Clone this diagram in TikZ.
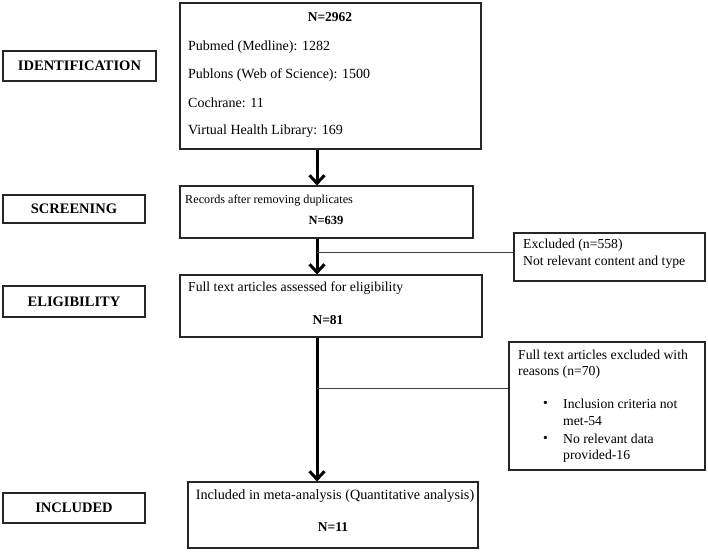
\documentclass[tikz,border=0pt]{standalone}
\usepackage{fontspec}
\setmainfont{Liberation Serif}
\usetikzlibrary{arrows.meta}
\begin{document}
\begin{tikzpicture}[x=1pt,y=-1pt,
  box/.style={draw=black!85, line width=1.1pt, inner sep=0pt},
  stage/.style={box, font=\fontsize{14.5}{16}\selectfont\bfseries},
  txt/.style={anchor=west, inner sep=0pt, font=\fontsize{13.7}{15}\selectfont},
  ntxt/.style={inner sep=0pt, font=\fontsize{13.5}{15}\selectfont\bfseries},
  arr/.style={line width=3pt, -{Straight Barb[length=8pt,width=15pt]}},
  side/.style={line width=1pt, draw=black!75}]
\useasboundingbox (0,0) rectangle (708,551);
% stage boxes
\node[stage, minimum width=153pt, minimum height=30pt] (s1) at (79.5,66) {IDENTIFICATION};
\node[stage, minimum width=142pt, minimum height=28pt] (s2) at (74,209) {SCREENING};
\node[stage, minimum width=142pt, minimum height=31pt] (s3) at (74,301.5) {ELIGIBILITY};
\node[stage, minimum width=142pt, minimum height=30pt] (s4) at (74,508) {INCLUDED};
% main boxes
\node[box, minimum width=301pt, minimum height=146pt] (b1) at (330.5,76) {};
\node[box, minimum width=293pt, minimum height=52pt] (b2) at (326.5,212) {};
\node[box, minimum width=302pt, minimum height=62pt] (b3) at (331,306) {};
\node[box, minimum width=290pt, minimum height=66pt] (b4) at (333,515) {};
\node[box, minimum width=191pt, minimum height=48pt] (e1) at (609.5,257) {};
\node[box, minimum width=196pt, minimum height=128pt] (e2) at (607,406) {};
% box 1 text
\node[ntxt] (t1n) at (330,17) {N=2962};
\node[txt, font=\fontsize{14}{15}\selectfont] (t1a) at (188,47) {Pubmed (Medline): 1282};
\node[txt, font=\fontsize{14}{15}\selectfont] (t1b) at (188,75) {Publons (Web of Science): 1500};
\node[txt, font=\fontsize{14}{15}\selectfont] (t1c) at (188,103) {Cochrane: 11};
\node[txt, font=\fontsize{14}{15}\selectfont] (t1d) at (188,131) {Virtual Health Library: 169};
% box 2 text
\node[txt, font=\fontsize{12.2}{14}\selectfont] (t2a) at (185,201) {Records after removing duplicates};
\node[ntxt, font=\fontsize{12.5}{14}\selectfont\bfseries] (t2n) at (326,220) {N=639};
% box 3 text
\node[txt] (t3a) at (188,288) {Full text articles assessed for eligibility};
\node[ntxt] (t3n) at (328,320) {N=81};
% box 4 text
\node[txt, anchor=center, font=\fontsize{14.2}{15}\selectfont] (t4a) at (335,496) {Included in meta-analysis (Quantitative analysis)};
\node[ntxt] (t4n) at (333,527) {N=11};
% excluded 1
\node[txt] (e1a) at (523,245) {Excluded (n=558)};
\node[txt] (e1b) at (523,262) {Not relevant content and type};
% excluded 2
\node[txt] (e2a) at (518,355) {Full text articles excluded with};
\node[txt] (e2b) at (518,372) {reasons (n=70)};
\node[txt] (e2c) at (543,404) {\textbullet};
\node[txt] (e2d) at (563,404) {Inclusion criteria not};
\node[txt] (e2e) at (563,421) {met-54};
\node[txt] (e2f) at (543,439) {\textbullet};
\node[txt] (e2g) at (563,439) {No relevant data};
\node[txt] (e2h) at (563,456) {provided-16};
% connectors
\coordinate (ax) at (317,0);
\draw[arr] (ax |- b1.south) -- (ax |- b2.north);
\draw[arr] (ax |- b2.south) -- (ax |- b3.north);
\draw[arr] (ax |- b3.south) -- (ax |- b4.north);
\coordinate (j1) at (317,252);
\coordinate (j2) at (317,388);
\draw[side] (j1) -- (j1 -| e1.west);
\draw[side] (j2) -- (j2 -| e2.west);
\end{tikzpicture}
\end{document}
